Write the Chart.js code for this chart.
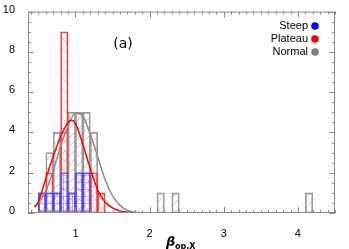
<!DOCTYPE html>
<html>
<head>
<meta charset="utf-8">
<script src="https://cdn.jsdelivr.net/npm/chart.js@4.4.1/dist/chart.umd.min.js"></script>
<style>
  html, body { margin: 0; padding: 0; background: #fff; }
  #wrap { width: 349px; height: 249px; }
</style>
</head>
<body>
<div id="wrap"><canvas id="histChart" width="349" height="249"></canvas></div>
<script>
const seriesNames = ['Steep', 'Plateau', 'Normal'];

const steepX = [0.55, 0.65, 0.75, 0.85, 0.95, 1.05, 1.15];
const steepCounts = [1, 1, 1, 2, 1, 2, 2];

const plateauX = [0.55, 0.65, 0.75, 0.85, 0.95, 1.05, 1.15, 1.25, 1.35];
const plateauCounts = [1, 2, 1, 9, 1, 2, 2, 2, 1];

const normalX = [0.55, 0.65, 0.75, 0.85, 0.95, 1.05, 1.15, 1.25, 2.15, 2.35, 4.15];
const normalCounts = [1, 3, 4, 4, 5, 5, 5, 4, 1, 1, 1];

// Curvas de ajuste
const plateauFitX = [0.45, 0.5, 0.6, 0.7, 0.8, 0.9, 0.95, 1.0, 1.1, 1.2, 1.3, 1.4, 1.5, 1.6, 1.7, 1.8, 2.0, 4.5];
const plateauFitY = [0.3, 0.55, 1.7, 2.8, 3.8, 4.5, 4.6, 4.45, 3.4, 2.2, 1.15, 0.55, 0.25, 0.1, 0.04, 0.01, 0, 0];

const normalFitX = [0.45, 0.5, 0.6, 0.7, 0.8, 0.9, 1.0, 1.1, 1.2, 1.3, 1.4, 1.5, 1.6, 1.7, 1.8, 1.9, 2.1, 4.5];
const normalFitY = [0.3, 0.5, 1.1, 2.1, 3.3, 4.35, 4.95, 4.8, 3.9, 2.8, 1.65, 0.85, 0.38, 0.13, 0.04, 0.01, 0, 0];

// Ejes
const xTickValues = [1, 2, 3, 4];
const yTickValues = [0, 2, 4, 6, 8, 10];
const X_MIN = 0.36, X_MAX = 4.5;
const Y_MIN = 0, Y_MAX = 10;

const toPoints = (xs, ys) => xs.map((x, i) => ({ x: x, y: ys[i] }));

// Patrones de rayado (ojo: fijar el tamaño antes de tocar el contexto)
function makeHatch(kind, color) {
  const c = document.createElement('canvas');
  if (kind === 'slash') { c.width = 9; c.height = 9; }
  else if (kind === 'back') { c.width = 8; c.height = 10; }
  else { c.width = 9; c.height = 7; }
  const g = c.getContext('2d');
  g.strokeStyle = color;
  g.lineWidth = 1;
  g.beginPath();
  if (kind === 'slash') {
    g.moveTo(-1, 10); g.lineTo(10, -1);
  } else if (kind === 'back') {
    g.moveTo(-1, -1.25); g.lineTo(9, 11.25);
  } else {
    g.moveTo(0, 0.5); g.lineTo(9, 0.5);
    g.moveTo(0.5, 0); g.lineTo(0.5, 7);
  }
  g.stroke();
  return g.createPattern(c, 'repeat');
}

const ctx = document.getElementById('histChart').getContext('2d');

const frameAndTicks = {
  id: 'frameAndTicks',
  afterDatasetsDraw(chart) {
    const { ctx, chartArea: a, scales: { x, y } } = chart;
    ctx.save();
    ctx.strokeStyle = '#8a8a8a';
    ctx.lineWidth = 1;
    ctx.strokeRect(a.left + 0.5, a.top + 0.5, a.right - a.left - 1, a.bottom - a.top - 1);
    ctx.beginPath();
    // ticks menores del eje x cada 0.1
    for (let i = Math.ceil(X_MIN * 10); i <= Math.floor(X_MAX * 10); i++) {
      const px = Math.round(x.getPixelForValue(i / 10)) + 0.5;
      const len = i % 10 === 0 ? 6 : 3;
      ctx.moveTo(px, a.bottom); ctx.lineTo(px, a.bottom - len);
      ctx.moveTo(px, a.top); ctx.lineTo(px, a.top + len);
    }
    // ticks del eje y cada 0.5
    for (let i = 0; i <= 20; i++) {
      const py = Math.round(y.getPixelForValue(i / 2)) + 0.5;
      const len = i % 4 === 0 ? 6 : 3;
      ctx.moveTo(a.left, py); ctx.lineTo(a.left + len, py);
      ctx.moveTo(a.right, py); ctx.lineTo(a.right - len, py);
    }
    ctx.stroke();
    ctx.restore();
  },
  afterDraw(chart) {
    const { ctx } = chart;
    ctx.save();
    ctx.fillStyle = '#000';

    // etiqueta del panel
    ctx.font = '14px "DejaVu Sans"';
    ctx.textAlign = 'center';
    ctx.textBaseline = 'middle';
    ctx.fillText('(a)', 123, 44);

    // leyenda
    const colors = ['#0000ff', '#ff0000', '#808080'];
    ctx.font = '11px "Liberation Sans"';
    ctx.textAlign = 'right';
    seriesNames.forEach((name, i) => {
      const yy = 26 + i * 13;
      ctx.fillStyle = '#000';
      ctx.fillText(name, 308, yy);
      ctx.fillStyle = colors[i];
      ctx.beginPath();
      ctx.arc(315, yy, 3.8, 0, Math.PI * 2);
      ctx.fill();
    });

    // titulo eje x: beta_op,X
    ctx.fillStyle = '#000';
    ctx.textAlign = 'left';
    ctx.font = 'italic bold 13px "DejaVu Sans"';
    ctx.fillText('\u03b2', 166, 243);
    ctx.font = 'bold 8px "DejaVu Sans"';
    ctx.fillText('op,X', 175, 247);
    ctx.restore();
  }
};

new Chart(ctx, {
  type: 'bar',
  data: {
    datasets: [
      {
        type: 'line',
        label: 'Plateau fit',
        data: toPoints(plateauFitX, plateauFitY),
        borderColor: '#ff0000',
        borderWidth: 1.5,
        pointRadius: 0,
        cubicInterpolationMode: 'monotone',
        fill: false,
        order: 0
      },
      {
        type: 'line',
        label: 'Normal fit',
        data: toPoints(normalFitX, normalFitY),
        borderColor: '#8c8c8c',
        borderWidth: 1.5,
        pointRadius: 0,
        cubicInterpolationMode: 'monotone',
        fill: false,
        order: 1
      },
      {
        label: 'Steep',
        data: toPoints(steepX, steepCounts),
        backgroundColor: makeHatch('grid', 'rgba(90,90,255,0.45)'),
        borderColor: '#4d4dff',
        borderWidth: 1,
        borderSkipped: false,
        grouped: false,
        barPercentage: 1,
        categoryPercentage: 1,
        order: 2
      },
      {
        label: 'Plateau',
        data: toPoints(plateauX, plateauCounts),
        backgroundColor: makeHatch('back', 'rgba(255,90,90,0.5)'),
        borderColor: '#ff3a3a',
        borderWidth: 1,
        borderSkipped: false,
        grouped: false,
        barPercentage: 1,
        categoryPercentage: 1,
        order: 3
      },
      {
        label: 'Normal',
        data: toPoints(normalX, normalCounts),
        backgroundColor: makeHatch('slash', 'rgba(150,150,150,0.55)'),
        borderColor: '#999999',
        borderWidth: 1,
        borderSkipped: false,
        grouped: false,
        barPercentage: 1,
        categoryPercentage: 1,
        order: 4
      }
    ]
  },
  options: {
    responsive: false,
    animation: false,
    layout: { padding: { top: 5, right: 14, left: 0, bottom: 0 } },
    plugins: {
      legend: { display: false },
      tooltip: { enabled: false }
    },
    scales: {
      x: {
        type: 'linear',
        offset: false,
        min: X_MIN,
        max: X_MAX,
        grid: { display: false },
        border: { display: false },
        afterBuildTicks: (s) => { s.ticks = xTickValues.map(v => ({ value: v })); },
        afterFit: (s) => { s.height = 36; },
        ticks: {
          color: '#000',
          font: { family: 'Liberation Sans', size: 11 },
          padding: 6,
          maxRotation: 0
        }
      },
      y: {
        min: Y_MIN,
        max: Y_MAX,
        grid: { display: false },
        border: { display: false },
        afterBuildTicks: (s) => { s.ticks = yTickValues.map(v => ({ value: v })); },
        afterFit: (s) => { s.width = 28; },
        ticks: {
          color: '#000',
          font: { family: 'Liberation Sans', size: 11 },
          padding: 5,
          labelOffset: -2
        }
      }
    }
  },
  plugins: [frameAndTicks]
});
</script>
</body>
</html>
